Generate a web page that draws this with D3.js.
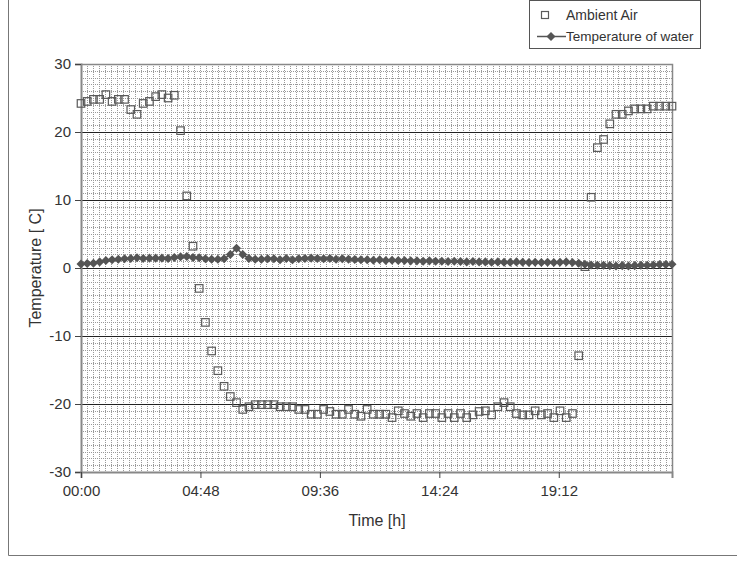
<!DOCTYPE html>
<html>
<head>
<meta charset="utf-8">
<script src="https://cdn.jsdelivr.net/npm/d3@7"></script>
<style>
  body { margin: 0; background: #fff; }
  svg { display: block; font-family: "Liberation Sans", Arial, sans-serif; }
</style>
</head>
<body>
<svg id="chart" width="737" height="568"></svg>
<script>
// sample times in hours (every 15 min)
var timeHours = [
  0, 0.25, 0.5, 0.75, 1, 1.25, 1.5, 1.75,
  2, 2.25, 2.5, 2.75, 3, 3.25, 3.5, 3.75,
  4, 4.25, 4.5, 4.75, 5, 5.25, 5.5, 5.75,
  6, 6.25, 6.5, 6.75, 7, 7.25, 7.5, 7.75,
  8, 8.25, 8.5, 8.75, 9, 9.25, 9.5, 9.75,
  10, 10.25, 10.5, 10.75, 11, 11.25, 11.5, 11.75,
  12, 12.25, 12.5, 12.75, 13, 13.25, 13.5, 13.75,
  14, 14.25, 14.5, 14.75, 15, 15.25, 15.5, 15.75,
  16, 16.25, 16.5, 16.75, 17, 17.25, 17.5, 17.75,
  18, 18.25, 18.5, 18.75, 19, 19.25, 19.5, 19.75,
  20, 20.25, 20.5, 20.75, 21, 21.25, 21.5, 21.75,
  22, 22.25, 22.5, 22.75, 23, 23.25, 23.5, 23.75
];

var ambientAir = [
  24.2, 24.5, 24.8, 24.8, 25.5, 24.5, 24.8, 24.8,
  23.3, 22.6, 24.2, 24.5, 25.2, 25.5, 25.0, 25.4,
  20.2, 10.6, 3.2, -3.0, -8.0, -12.2, -15.1, -17.4,
  -18.9, -19.8, -20.8, -20.4, -20.1, -20.1, -20.1, -20.1,
  -20.4, -20.4, -20.4, -20.8, -20.8, -21.5, -21.5, -20.8,
  -21.1, -21.5, -21.5, -20.8, -21.5, -21.8, -20.8, -21.5,
  -21.5, -21.5, -22.0, -21.0, -21.4, -21.8, -21.4, -22.0,
  -21.4, -21.4, -22.0, -21.4, -22.0, -21.4, -22.0, -21.6,
  -21.1, -21.0, -21.6, -20.4, -19.8, -20.4, -21.4, -21.6,
  -21.6, -21.0, -21.6, -21.4, -22.0, -21.0, -22.0, -21.4,
  -12.9, 0.2, 10.4, 17.7, 18.9, 21.2, 22.6, 22.6,
  23.1, 23.4, 23.4, 23.4, 23.8, 23.8, 23.8, 23.8
];

var waterTemp = [
  0.6, 0.65, 0.7, 0.9, 1.1, 1.2, 1.3, 1.35,
  1.4, 1.5, 1.4, 1.45, 1.45, 1.45, 1.4, 1.55,
  1.65, 1.7, 1.55, 1.5, 1.35, 1.3, 1.3, 1.35,
  2.0, 2.9, 2.0, 1.4, 1.3, 1.3, 1.35, 1.35,
  1.2, 1.4, 1.2, 1.35, 1.4, 1.45, 1.4, 1.35,
  1.4, 1.3, 1.35, 1.3, 1.25, 1.2, 1.2, 1.15,
  1.2, 1.1, 1.15, 1.1, 1.1, 1.05, 1.05, 1.0,
  1.05, 1.0, 1.0, 0.95, 1.0, 0.95, 0.9, 0.95,
  0.9, 0.9, 0.85, 0.9, 0.85, 0.85, 0.9, 0.85,
  0.8, 0.85, 0.8, 0.85, 0.8, 0.85, 0.9, 0.8,
  0.7, 0.55, 0.45, 0.4, 0.4, 0.35, 0.3, 0.35,
  0.3, 0.35, 0.4, 0.4, 0.45, 0.5, 0.5, 0.55
];

var xTicks = [0, 4.8, 9.6, 14.4, 19.2];
var xTickLabels = ["00:00", "04:48", "09:36", "14:24", "19:12"];
var yTicks = [-30, -20, -10, 0, 10, 20, 30];
var yMajorGrid = [-20, -10, 0, 10, 20];

var svg = d3.select("#chart");

var plotLeft = 81, plotRight = 672, plotTop = 64, plotBottom = 472;

var x = d3.scaleLinear().domain([0, 23.75]).range([plotLeft, plotRight]);
var y = d3.scaleLinear().domain([-30, 30]).range([plotBottom, plotTop]);

// outer chart frame
svg.append("path")
  .attr("d", "M8.5,0 V555.5 H737")
  .attr("fill", "none")
  .attr("stroke", "#777")
  .attr("stroke-width", 1);

var grid = svg.append("g");

grid.selectAll(".minor-y")
  .data(d3.range(-29, 30).filter(d => d % 10 !== 0))
  .enter().append("line")
    .attr("x1", plotLeft).attr("x2", plotRight)
    .attr("y1", d => Math.round(y(d)) + 0.5)
    .attr("y2", d => Math.round(y(d)) + 0.5)
    .attr("stroke", "#999")
    .attr("stroke-dasharray", "1,1");

grid.selectAll(".minor-x")
  .data(d3.range(0.24, 23.75, 0.24))
  .enter().append("line")
    .attr("x1", d => Math.round(x(d)) + 0.5)
    .attr("x2", d => Math.round(x(d)) + 0.5)
    .attr("y1", plotTop).attr("y2", plotBottom)
    .attr("stroke", "#999")
    .attr("stroke-dasharray", "1,1");

grid.selectAll(".major-y")
  .data(yMajorGrid)
  .enter().append("line")
    .attr("x1", plotLeft).attr("x2", plotRight)
    .attr("y1", d => Math.round(y(d)) + 0.5)
    .attr("y2", d => Math.round(y(d)) + 0.5)
    .attr("stroke", "#222")
    .attr("stroke-width", 1.2);

// plot frame top / right
svg.append("path")
  .attr("d", "M" + plotLeft + "," + (plotTop + 0.5) + " H" + (plotRight + 0.5) + " V" + plotBottom)
  .attr("fill", "none")
  .attr("stroke", "#888")
  .attr("stroke-width", 1.5);

var yAxis = svg.append("g")
  .attr("transform", "translate(" + plotLeft + ",0)")
  .call(d3.axisLeft(y).tickValues(yTicks).tickSize(6).tickPadding(4)
          .tickFormat(d => String(d)));

var xAxis = svg.append("g")
  .attr("transform", "translate(0," + plotBottom + ")")
  .call(d3.axisBottom(x).tickValues(xTicks).tickSize(6).tickPadding(7)
          .tickFormat((d, i) => xTickLabels[i]));

[yAxis, xAxis].forEach(function(ax) {
  ax.select(".domain").attr("stroke", "#888").attr("stroke-width", 2);
  ax.selectAll(".tick line").attr("stroke", "#444");
  ax.selectAll("text")
    .attr("fill", "#333")
    .style("font-size", "15px")
    .style("font-family", "'Liberation Sans', Arial, sans-serif");
});

// ambient air squares
var sq = 7.5;
svg.append("g").selectAll("rect")
  .data(ambientAir)
  .enter().append("rect")
    .attr("x", (d, i) => x(timeHours[i]) - sq / 2)
    .attr("y", d => y(d) - sq / 2)
    .attr("width", sq)
    .attr("height", sq)
    .attr("fill", "none")
    .attr("stroke", "#5a5a5a")
    .attr("stroke-width", 1.2);

// water temperature line + diamonds
var line = d3.line()
  .x((d, i) => x(timeHours[i]))
  .y(d => y(d));

svg.append("path")
  .datum(waterTemp)
  .attr("d", line)
  .attr("fill", "none")
  .attr("stroke", "#555")
  .attr("stroke-width", 1.5);

var diamond = d3.symbol().type(d3.symbolDiamond2).size(52);
svg.append("g").selectAll("path")
  .data(waterTemp)
  .enter().append("path")
    .attr("d", diamond)
    .attr("transform", (d, i) => "translate(" + x(timeHours[i]) + "," + y(d) + ")")
    .attr("fill", "#555");

// axis titles
svg.append("text")
  .attr("x", 377)
  .attr("y", 526)
  .style("text-anchor", "middle")
  .style("font-size", "16px")
  .attr("fill", "#333")
  .text("Time [h]");

svg.append("text")
  .attr("transform", "rotate(-90)")
  .attr("x", -268)
  .attr("y", 41)
  .style("text-anchor", "middle")
  .style("font-size", "16px")
  .attr("fill", "#333")
  .text("Temperature  [ C]");

// legend
var legend = svg.append("g");
legend.append("rect")
  .attr("x", 529.5).attr("y", 0.5)
  .attr("width", 171).attr("height", 48)
  .attr("fill", "#fff")
  .attr("stroke", "#555");

legend.append("rect")
  .attr("x", 541.5).attr("y", 11.5)
  .attr("width", 7).attr("height", 7)
  .attr("fill", "none")
  .attr("stroke", "#5a5a5a")
  .attr("stroke-width", 1.2);

legend.append("text")
  .attr("x", 566).attr("y", 20)
  .style("font-size", "14px")
  .attr("fill", "#333")
  .text("Ambient Air");

legend.append("line")
  .attr("x1", 537).attr("x2", 566)
  .attr("y1", 36.5).attr("y2", 36.5)
  .attr("stroke", "#555")
  .attr("stroke-width", 1.5);

legend.append("path")
  .attr("d", diamond)
  .attr("transform", "translate(551,36.5)")
  .attr("fill", "#555");

legend.append("text")
  .attr("x", 566).attr("y", 41)
  .style("font-size", "13.5px")
  .attr("fill", "#333")
  .text("Temperature of water");
</script>
</body>
</html>
